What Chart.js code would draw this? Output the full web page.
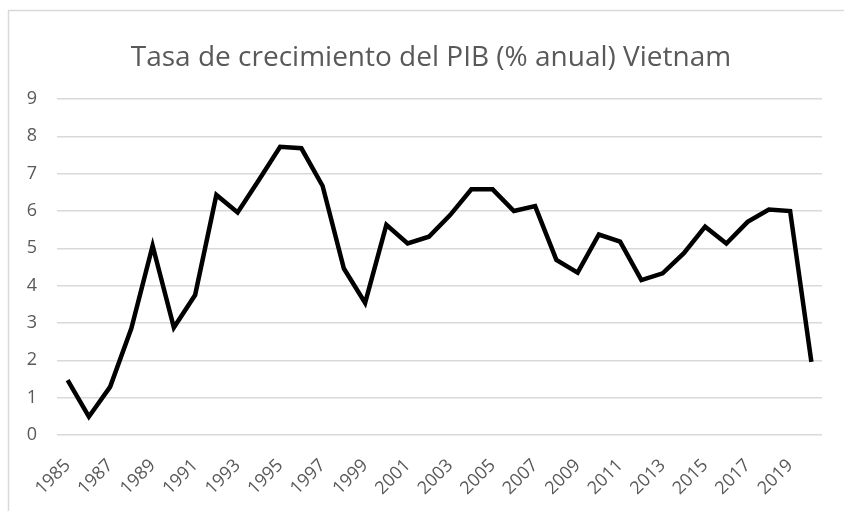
<!DOCTYPE html>
<html lang="es">
<head>
  <meta charset="UTF-8" />
  <title>Tasa de crecimiento del PIB Vietnam</title>
  <script src="https://cdn.jsdelivr.net/npm/chart.js"></script>
  <style>
    html, body { margin: 0; padding: 0; background: #fff; }
    #wrap { width: 844px; height: 511px; }
  </style>
</head>
<body>
  <div id="wrap"><canvas id="pibChart"></canvas></div>

  <script>
    const years = [];
    for (let y = 1985; y <= 2020; y++) years.push(String(y));

    const growth = [
      1.47, 0.49, 1.29, 2.86, 5.07, 2.88, 3.75, 6.43, 5.96, 6.83,
      7.72, 7.68, 6.67, 4.46, 3.54, 5.63, 5.13, 5.31, 5.89, 6.58,
      6.58, 6.00, 6.13, 4.69, 4.35, 5.37, 5.18, 4.15, 4.33, 4.87,
      5.58, 5.13, 5.71, 6.04, 6.00, 1.96
    ];

    const yTicks = [0, 1, 2, 3, 4, 5, 6, 7, 8, 9];
    const chartTitle = 'Tasa de crecimiento del PIB (% anual) Vietnam';

    // white background, light frame and the title centred on the whole box
    const frame = {
      id: 'frame',
      beforeDraw(chart) {
        const ctx = chart.ctx;
        ctx.save();
        ctx.fillStyle = '#fff';
        ctx.fillRect(0, 0, chart.width, chart.height);
        ctx.strokeStyle = '#d9d9d9';
        ctx.lineWidth = 1.5;
        ctx.strokeRect(8.5, 10.5, chart.width + 20, chart.height + 20);
        ctx.fillStyle = '#595959';
        ctx.font = '28px "Open Sans"';
        ctx.textAlign = 'center';
        ctx.textBaseline = 'alphabetic';
        ctx.fillText(chartTitle, 431, 66);
        ctx.restore();
      }
    };

    new Chart(document.getElementById('pibChart'), {
      type: 'line',
      data: {
        labels: years,
        datasets: [{
          data: growth,
          borderColor: '#000',
          borderWidth: 4.5,
          pointRadius: 0,
          tension: 0,
          fill: false
        }]
      },
      options: {
        responsive: true,
        maintainAspectRatio: false,
        animation: false,
        layout: { padding: { top: 99, right: 22 } },
        plugins: {
          legend: { display: false },
          tooltip: { enabled: false },
          title: { display: false }
        },
        scales: {
          x: {
            offset: true,
            grid: { display: false },
            border: { display: false },
            ticks: {
              autoSkip: false,
              maxRotation: 45,
              minRotation: 45,
              color: '#595959',
              font: { family: 'Open Sans', size: 18 },
              padding: 12,
              callback: function (v, i) { return i % 2 === 0 ? years[i] : ''; }
            },
            afterFit: s => { s.height = 76; }
          },
          y: {
            min: 0,
            max: 9,
            border: { display: false },
            grid: { color: '#d9d9d9', lineWidth: 1.5, drawTicks: false },
            afterBuildTicks: s => { s.ticks = yTicks.map(v => ({ value: v })); },
            ticks: {
              color: '#595959',
              font: { family: 'Open Sans', size: 18 },
              padding: 20
            },
            afterFit: s => { s.width = 57; }
          }
        }
      },
      plugins: [frame]
    });
  </script>
</body>
</html>
